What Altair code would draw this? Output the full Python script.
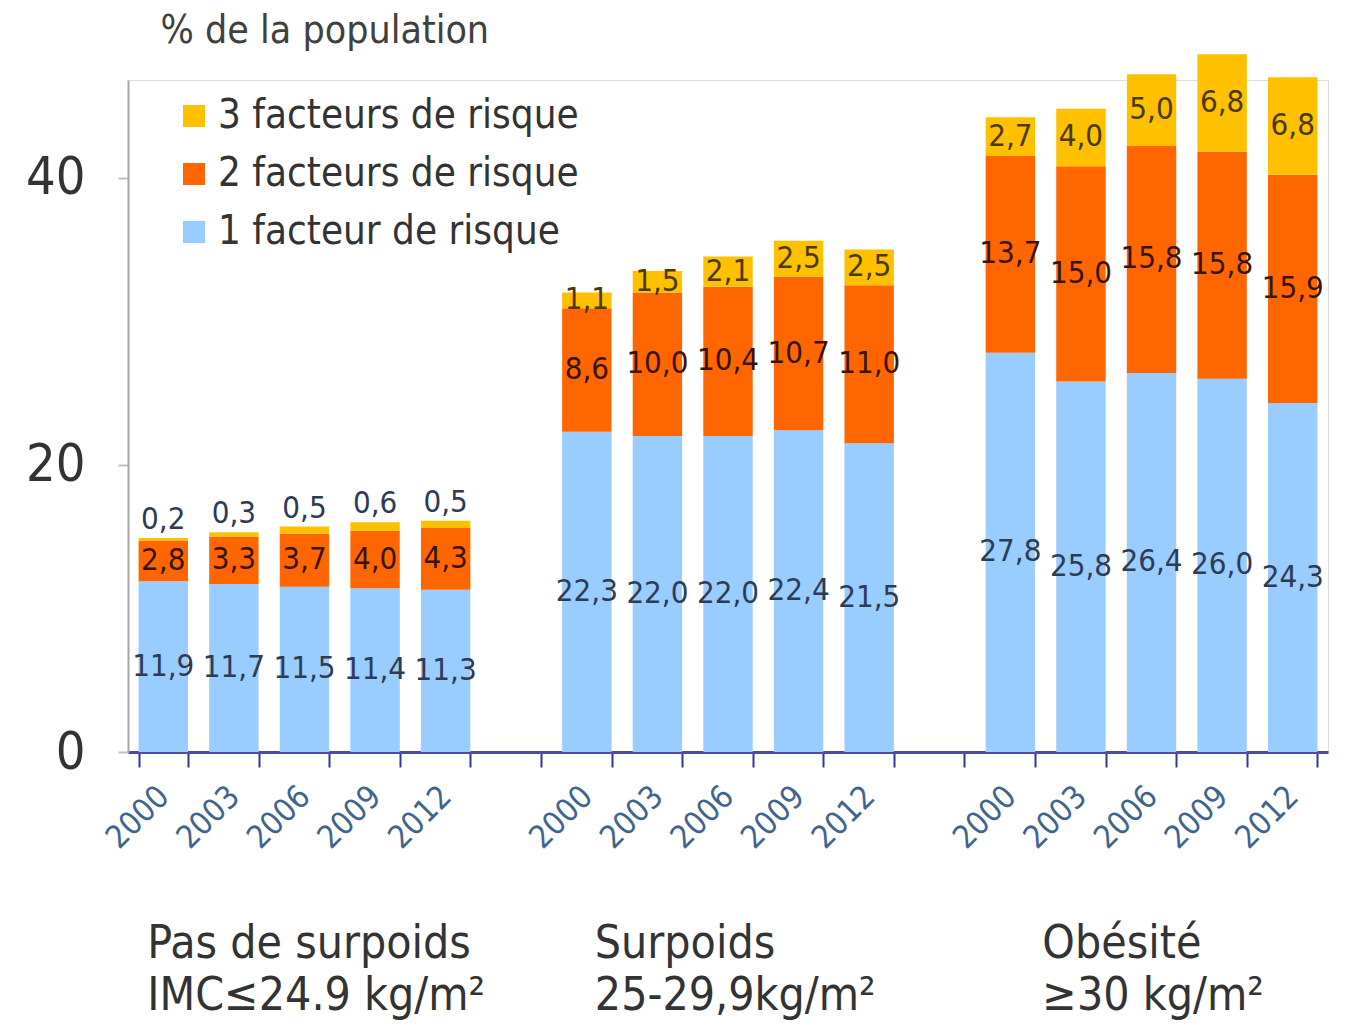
import altair as alt
import pandas as pd

# ---------------- data ----------------
groups = ["Pas de surpoids", "Surpoids", "Obésité"]
group_labels = ["Pas de surpoids\nIMC≤24.9 kg/m²", "Surpoids\n25-29,9kg/m²", "Obésité\n≥30 kg/m²"]
years = ["2000", "2003", "2006", "2009", "2012"]
series = ["1 facteur de risque", "2 facteurs de risque", "3 facteurs de risque"]

one_factor = [[11.9, 11.7, 11.5, 11.4, 11.3],
              [22.3, 22.0, 22.0, 22.4, 21.5],
              [27.8, 25.8, 26.4, 26.0, 24.3]]
two_factors = [[2.8, 3.3, 3.7, 4.0, 4.3],
               [8.6, 10.0, 10.4, 10.7, 11.0],
               [13.7, 15.0, 15.8, 15.8, 15.9]]
three_factors = [[0.2, 0.3, 0.5, 0.6, 0.5],
                 [1.1, 1.5, 2.1, 2.5, 2.5],
                 [2.7, 4.0, 5.0, 6.8, 6.8]]
y_ticks = [0, 20, 40]

colors = ["#99CCFF", "#FF6600", "#FFC000"]
label_colors = ["#2E3B55", "#3A1400", "#4A3A00"]
FONT = "DejaVu Sans Condensed, Liberation Sans Narrow, DejaVu Sans, sans-serif"

# ---------------- build table ----------------
slot_domain = []
for gi, g in enumerate(groups):
    if gi > 0:
        slot_domain.append(f"spacer{gi}")
    for y in years:
        slot_domain.append(f"{y}|{gi}")

rows = []
vals = [one_factor, two_factors, three_factors]
for gi, g in enumerate(groups):
    for yi, y in enumerate(years):
        base = 0.0
        for si, s in enumerate(series):
            v = vals[si][gi][yi]
            rows.append({
                "slot": f"{y}|{gi}", "year": y, "group": g, "series": s,
                "rank": si, "value": v, "lo": base, "hi": base + v,
                "mid": base + v / 2, "label": f"{v:.1f}".replace(".", ","),
                "small": v < 1.0,
            })
            base += v
df = pd.DataFrame(rows)

W, H = 1200, 672

x_enc = alt.X("slot:N",
              scale=alt.Scale(domain=slot_domain, paddingInner=0.3, paddingOuter=0.15),
              axis=alt.Axis(title=None,
                            labelExpr="indexof(datum.label,'|')>0 ? split(datum.label,'|')[0] : ''",
                            labelAngle=315, labelAlign="right", labelBaseline="middle",
                            labelFont=FONT, labelFontSize=32, labelColor="#41648F",
                            labelPadding=24, tickBand="extent",
                            domainColor="#4B4BA6", domainWidth=3,
                            tickColor="#33339A", tickWidth=2, tickSize=15))

y_scale = alt.Scale(domain=[0, 46.8], nice=False)

legend_order = series[::-1]
bars = alt.Chart(df).mark_bar().encode(
    x=x_enc,
    y=alt.Y("value:Q", stack="zero", scale=y_scale,
            axis=alt.Axis(values=y_ticks, grid=False, title="% de la population",
                          titleAngle=0, titleAlign="left", titleBaseline="alphabetic",
                          titleX=32, titleY=-38, titleFont=FONT, titleFontSize=39,
                          titleFontWeight="normal", titleColor="#404040",
                          labelFont=FONT, labelFontSize=52, labelColor="#333333",
                          labelPadding=33, domainColor="#A6A6A6", domainWidth=2,
                          tickColor="#BFBFBF", tickWidth=2, tickSize=10)),
    color=alt.Color("series:N",
                    scale=alt.Scale(domain=legend_order, range=colors[::-1]),
                    legend=alt.Legend(title=None, orient="none", legendX=46, legendY=16,
                                      symbolType="square", symbolSize=484,
                                      symbolStrokeWidth=0, labelFont=FONT,
                                      labelFontSize=40, labelColor="#333333",
                                      labelLimit=0, labelOffset=4, rowPadding=18,
                                      padding=0)),
    order=alt.Order("rank:Q", sort="ascending"),
)

layers = [bars]
for si, s in enumerate(series):
    base = alt.Chart(df).transform_filter(alt.datum.series == s)
    mid = base.transform_filter(alt.datum.small == False).mark_text(
        font=FONT, fontSize=31, color=label_colors[si], baseline="middle"
    ).encode(x=alt.X("slot:N", scale=alt.Scale(domain=slot_domain)),
             y=alt.Y("mid:Q", scale=y_scale), text="label:N")
    layers.append(mid)
    if si == 2:
        top = base.transform_filter(alt.datum.small == True).mark_text(
            font=FONT, fontSize=31, color="#2E3B55", baseline="bottom", dy=-2
        ).encode(x=alt.X("slot:N", scale=alt.Scale(domain=slot_domain)),
                 y=alt.Y("hi:Q", scale=y_scale), text="label:N")
        layers.append(top)

gl_df = pd.DataFrame({"slot": [f"{years[0]}|{gi}" for gi in range(len(groups))],
                      "glabel": group_labels})
dxs = [-16, 8, 32]
for gi in range(len(groups)):
    layers.append(
        alt.Chart(gl_df.iloc[[gi]]).mark_text(
            font=FONT, fontSize=46, color="#333333", align="left",
            baseline="alphabetic", lineBreak="\n", lineHeight=52, dx=dxs[gi]
        ).encode(x=alt.X("slot:N", scale=alt.Scale(domain=slot_domain)),
                 y=alt.value(H + 206), text="glabel:N")
    )

chart = alt.layer(*layers).properties(
    width=W, height=H,
    autosize=alt.AutoSizeParams(type="none"),
    padding={"left": 120, "top": 72, "right": 10, "bottom": 275},
).configure_view(stroke=None).configure(background="white")

chart.save("out.html", embed_options={"renderer": "svg", "actions": False})
